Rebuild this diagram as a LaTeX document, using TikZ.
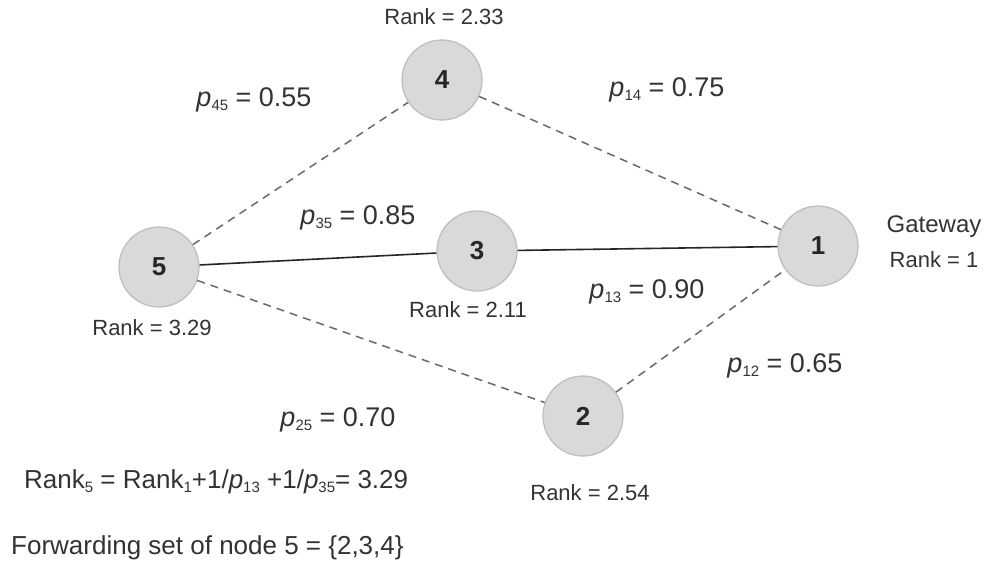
\documentclass[tikz,border=0pt]{standalone}
\usepackage{fontspec}
\setmainfont{Liberation Sans}
\definecolor{nodefill}{HTML}{D9D9D9}
\definecolor{nodeline}{HTML}{BDBDBD}
\definecolor{dashcol}{HTML}{6A6A6A}
\definecolor{txt}{HTML}{333333}
\newcommand{\fs}[1]{\fontsize{#1}{#1}\selectfont}
\newcommand{\pp}[1]{\textit{p}\raisebox{-0.25ex}{\fontsize{15}{15}\selectfont #1}}
\newcommand{\lowsub}[1]{\raisebox{-0.25ex}{\fontsize{15}{15}\selectfont #1}}
\tikzset{
  vert/.style={circle, fill=nodefill, draw=nodeline, line width=1.2pt, minimum size=80pt, inner sep=0pt, font=\fs{26}\bfseries, text=black!85},
  ranklbl/.style={font=\fs{22}, text=txt, inner sep=0pt},
  plbl/.style={font=\fs{27}, text=txt, inner sep=0pt},
  biglbl/.style={font=\fs{26}, text=txt, inner sep=0pt, anchor=west},
  dlink/.style={draw=dashcol, dash pattern=on 8pt off 6pt, line width=1.5pt},
  slink/.style={draw=black!85, line width=1.6pt}
}
\begin{document}
\begin{tikzpicture}[x=1pt,y=-1pt]
\useasboundingbox[fill=white] (0,0) rectangle (988,565);
\node[vert] (n4) at (442,80) {4};
\node[vert] (n5) at (159,267) {5};
\node[vert] (n3) at (477,251) {3};
\node[vert] (n1) at (818,246) {1};
\node[vert] (n2) at (583,416) {2};

\draw[dlink] (n5) -- (n4);
\draw[dlink] (n4) -- (n1);
\draw[slink] (n5) -- (n3);
\draw[slink] (n3) -- (n1);
\draw[dlink] (n5) -- (n2);
\draw[dlink] (n2) -- (n1);

\node[ranklbl] (r4) at (444,17) {Rank = 2.33};
\node[ranklbl] (r5) at (152,328) {Rank = 3.29};
\node[ranklbl] (r3) at (468,310) {Rank = 2.11};
\node[ranklbl] (r2) at (590,493) {Rank = 2.54};
\node[font=\fs{24}, text=txt, inner sep=0pt] (gw) at (934,227) {Gateway};
\node[ranklbl] (r1) at (934,260) {Rank = 1};

\node[plbl] (p45) at (254,100) {\pp{45} = 0.55};
\node[plbl] (p14) at (667,90) {\pp{14} = 0.75};
\node[plbl] (p35) at (358,218) {\pp{35} = 0.85};
\node[plbl] (p13) at (647,292) {\pp{13} = 0.90};
\node[plbl] (p12) at (785,366) {\pp{12} = 0.65};
\node[plbl] (p25) at (338,420) {\pp{25} = 0.70};

\node[biglbl] (eq) at (24,482) {Rank\lowsub{5} = Rank\lowsub{1}+1/\pp{13} +1/\pp{35}= 3.29};
\node[biglbl] (fw) at (11,548) {Forwarding set of node 5 = \{2,3,4\}};
\end{tikzpicture}
\end{document}
